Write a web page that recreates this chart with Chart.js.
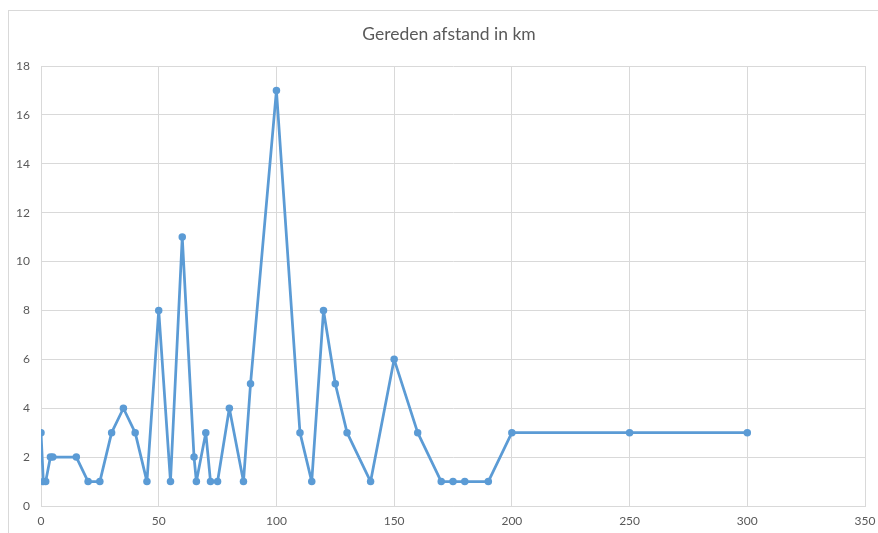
<!DOCTYPE html>
<html>
<head>
<meta charset="utf-8">
<script src="https://cdn.jsdelivr.net/npm/chart.js@4/dist/chart.umd.min.js"></script>
<style>
    html, body { margin: 0; padding: 0; background: #fff; overflow: hidden; }
    #frame {
        position: absolute; left: 8px; top: 10px;
        width: 1000px; height: 1000px;
        border: 1px solid #d9d9d9;
    }
    #wrap { position: absolute; left: 0; top: 0; width: 878px; height: 533px; }
</style>
</head>
<body>
<div id="frame"></div>
<div id="wrap"><canvas id="chart" width="878" height="533"></canvas></div>
<script>
const titleText = 'Gereden afstand in km';
const distances = [0, 1, 2, 4, 5, 15, 20, 25, 30, 35, 40, 45, 50, 55, 60, 65, 66, 70, 72, 75, 80, 86, 89,
    100, 110, 115, 120, 125, 130, 140, 150, 160, 170, 175, 180, 190, 200, 250, 300];
const counts = [3, 1, 1, 2, 2, 2, 1, 1, 3, 4, 3, 1, 8, 1, 11, 2, 1, 3, 1, 1, 4, 1, 5,
    17, 3, 1, 8, 5, 3, 1, 6, 3, 1, 1, 1, 1, 3, 3, 3];
const xTicks = [0, 50, 100, 150, 200, 250, 300, 350];
const yTicks = [0, 2, 4, 6, 8, 10, 12, 14, 16, 18];

const lineColor = '#5b9bd5';
const gridColor = '#d9d9d9';
const textColor = '#595959';

let points = distances.map((d, i) => ({ x: d, y: counts[i] }));

new Chart(document.getElementById('chart'), {
    type: 'scatter',
    data: {
        datasets: [{
            data: points,
            showLine: true,
            borderColor: lineColor,
            backgroundColor: lineColor,
            borderWidth: 2.75,
            borderJoinStyle: 'round',
            borderCapStyle: 'round',
            pointRadius: 3.75,
            pointBorderWidth: 0,
            pointHoverRadius: 3.75
        }]
    },
    options: {
        responsive: false,
        animation: false,
        // negative right padding: the Excel frame runs past the picture, so the title sits right of centre
        layout: { padding: { left: 0, right: -20, top: 0, bottom: 0 } },
        plugins: {
            legend: { display: false },
            tooltip: { enabled: false },
            title: {
                display: true,
                text: titleText,
                color: textColor,
                font: { family: 'Lato', size: 17.5, weight: 'normal' },
                padding: { top: 24, bottom: 21 }
            }
        },
        scales: {
            x: {
                type: 'linear',
                min: 0,
                max: 350,
                afterBuildTicks: axis => { axis.ticks = xTicks.map(v => ({ value: v })); },
                afterFit: axis => {
                    axis.height = 27;
                    axis.paddingLeft = 0;
                    axis.paddingRight = 13;
                },
                grid: { color: gridColor, drawTicks: false },
                border: { color: gridColor },
                ticks: { color: textColor, padding: 8, autoSkip: false, maxRotation: 0,
                    font: { family: 'Lato', size: 12 } }
            },
            y: {
                min: 0,
                max: 18,
                afterBuildTicks: axis => { axis.ticks = yTicks.map(v => ({ value: v })); },
                afterFit: axis => { axis.width = 41; },
                grid: { color: gridColor, drawTicks: false },
                border: { color: gridColor },
                ticks: { color: textColor, padding: 11, autoSkip: false,
                    font: { family: 'Lato', size: 12 } }
            }
        }
    }
});
</script>
</body>
</html>
